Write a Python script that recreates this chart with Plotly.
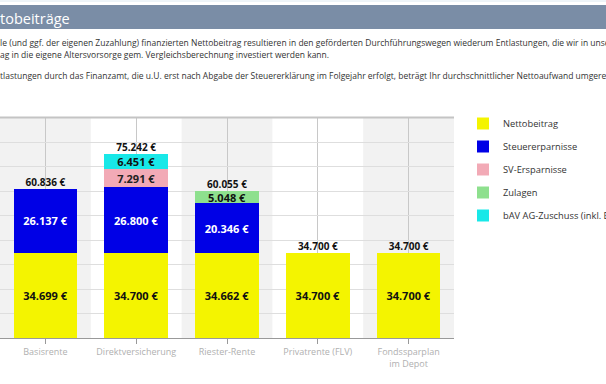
import plotly.graph_objects as go

W, H = 606, 384

categories = ["Basisrente", "Direktversicherung", "Riester-Rente", "Privatrente (FLV)", "Fondssparplan<br>im Depot"]
netto = [34699, 34700, 34662, 34700, 34700]
steuer = [26137, 26800, 20346, 0, 0]
sv = [0, 7291, 0, 0, 0]
zulagen = [0, 0, 5048, 0, 0]
bav = [0, 6451, 0, 0, 0]
totals = [60836, 75242, 60055, 34700, 34700]

series_names = ["Nettobeitrag", "Steuererparnisse", "SV-Ersparnisse", "Zulagen",
                "bAV AG-Zuschuss (inkl. BAV-Förderung)"]
series_values = [netto, steuer, sv, zulagen, bav]
series_colors = ["#f4f400", "#0000e6", "#f2aab6", "#8ee08e", "#18e8e8"]
text_colors = ["#111111", "#ffffff", "#222222", "#111111", "#111111"]

header_text = "tobeiträge"
para_lines = [
    "le (und ggf. der eigenen Zuzahlung) finanzierten Nettobeitrag resultieren in den geförderten Durchführungswegen wiederum Entlastungen, die wir in unserer",
    "ag in die eigene Altersvorsorge gem. Vergleichsberechnung investiert werden kann.",
    "tlastungen durch das Finanzamt, die u.U. erst nach Abgabe der Steuererklärung im Folgejahr erfolgt, beträgt Ihr durchschnittlicher Nettoaufwand umgerechnet",
]

def de(v):
    return f"{v:,.0f}".replace(",", ".") + " €"

fig = go.Figure()
xs = list(range(len(categories)))
for name, vals, col, tcol in zip(series_names, series_values, series_colors, text_colors):
    fig.add_trace(go.Bar(
        x=xs, y=vals, name=name, legendgroup=name,
        marker=dict(color=col, line=dict(width=0)),
        width=0.7,
        text=[de(v) if v else "" for v in vals],
        textposition="inside", insidetextanchor="middle", textangle=0,
        constraintext="none",
        textfont=dict(family="Open Sans", size=11, color=tcol, weight="bold"),
        hoverinfo="skip",
    ))

fig.add_trace(go.Scatter(
    x=xs, y=totals, mode="text", text=[de(v) for v in totals],
    textposition="top center", showlegend=False, hoverinfo="skip",
    textfont=dict(family="Open Sans", size=10, color="#111111", weight="bold"),
))

y0 = (H - 338) / H
y1 = (H - 117.5) / H
x1 = 454 / W

shapes = []
for i in range(len(categories)):
    if i % 2 == 0:
        shapes.append(dict(type="rect", xref="x", yref="paper", x0=i - 0.5, x1=i + 0.5,
                           y0=y0, y1=y1, fillcolor="#f2f2f2", line=dict(width=0), layer="below"))
shapes.append(dict(type="rect", xref="paper", yref="paper", x0=0, x1=1,
                   y0=(H - 29) / H, y1=(H - 5) / H, fillcolor="#7a8da6", line=dict(width=0)))
shapes.append(dict(type="line", xref="paper", yref="paper", x0=0, x1=1,
                   y0=(H - 1) / H, y1=(H - 1) / H, line=dict(color="#dce8f0", width=1)))
shapes.append(dict(type="line", xref="paper", yref="paper", x0=0, x1=x1,
                   y0=y1, y1=y1, line=dict(color="#c4c4c4", width=2)))

annotations = [dict(text=header_text, xref="paper", yref="paper", x=-0.003, y=(H - 18) / H,
                    xanchor="left", yanchor="middle", showarrow=False,
                    font=dict(family="Open Sans", size=14.5, color="#ffffff"))]
for txt, py in zip(para_lines, [42, 55, 76]):
    annotations.append(dict(text=txt, xref="paper", yref="paper", x=-0.003, y=(H - py) / H,
                            xanchor="left", yanchor="middle", showarrow=False,
                            font=dict(family="Open Sans", size=8.5, color="#333333")))

fig.update_layout(
    width=W, height=H,
    margin=dict(l=0, r=0, t=0, b=0, autoexpand=False),
    paper_bgcolor="#ffffff", plot_bgcolor="rgba(0,0,0,0)",
    barmode="stack", bargap=0.3,
    showlegend=True,
    legend=dict(x=463 / W, y=(H - 109) / H, xanchor="left", yanchor="top",
                traceorder="grouped", tracegroupgap=4,
                font=dict(family="Open Sans", size=9.3, color="#333333"),
                bgcolor="rgba(0,0,0,0)", itemwidth=30),
    uniformtext=dict(minsize=10, mode="show"),
    shapes=shapes, annotations=annotations,
    xaxis=dict(domain=[0, x1], range=[-0.5, 4.5], tickmode="array", tickvals=xs,
               ticktext=categories, tickson="boundaries", ticks="outside", ticklen=5,
               tickangle=0, automargin=False,
               tickcolor="#999999", showgrid=True, gridcolor="#c8c8c8", gridwidth=1,
               showline=True, linecolor="#999999", linewidth=1,
               tickfont=dict(family="Open Sans", size=9, color="#b0b0b0")),
    yaxis=dict(domain=[y0, y1], range=[0, 90000], dtick=10000, showgrid=True,
               automargin=False,
               gridcolor="#dedede", gridwidth=1, showticklabels=False, zeroline=False),
)

fig.write_html("out.html", config={"displayModeBar": False},
               post_script="document.body.style.margin='0';document.body.style.overflow='hidden';")
